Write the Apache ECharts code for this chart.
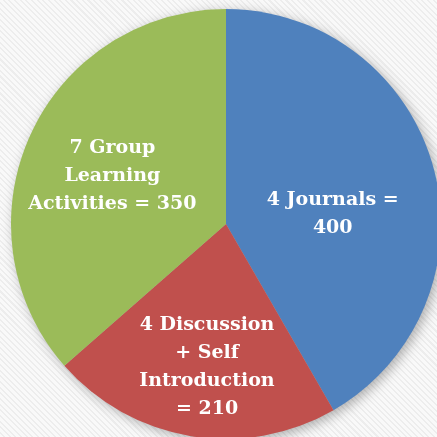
<!DOCTYPE html>
<html>
<head>
<meta charset="utf-8">
<script src="https://cdn.jsdelivr.net/npm/echarts@6/dist/echarts.min.js"></script>
<style>
  html, body { margin: 0; padding: 0; }
  body {
    width: 437px; height: 437px; overflow: hidden;
    background: repeating-linear-gradient(45deg, #f9f9f9 0px, #f9f9f9 2.5px, #ededed 2.5px, #ededed 4px);
  }
  /* 整个饼图的阴影，避免扇区之间互相投影 */
  #main { width: 437px; height: 437px; filter: drop-shadow(3px 3px 6px rgba(0,0,0,0.3)); }
</style>
</head>
<body>
<div id="main"></div>
<script>
// 数据
var names = ['4 Journals =\n400', '4 Discussion\n+ Self\nIntroduction\n= 210', '7 Group\nLearning\nActivities = 350']
var values = [400, 210, 350]
var colors = ['#4F81BD', '#C0504D', '#9BBB59']
// 标签微调
var labelShift = [[0, 19], [-1, 34], [-13, -2]]

var myChart = echarts.init(document.getElementById('main'));

var option = {
  animation: false,
  series: [
    {
      type: 'pie',
      center: [226, 224],
      radius: 215,
      startAngle: 90,
      clockwise: true,
      data: values.map(function (v, i) {
        return { name: names[i], value: v, itemStyle: { color: colors[i] } }
      }),
      itemStyle: {
        borderWidth: 0
      },
      label: {
        position: 'inside',
        formatter: '{b}',
        color: '#fff',
        fontFamily: 'DejaVu Serif',
        fontWeight: 'bold',
        fontSize: 19,
        lineHeight: 28,
        align: 'center'
      },
      labelLine: { show: false },
      labelLayout: function (params) {
        var s = labelShift[params.dataIndex]
        return { dx: s[0], dy: s[1] }
      }
    }
  ]
};

myChart.setOption(option);
</script>
</body>
</html>
